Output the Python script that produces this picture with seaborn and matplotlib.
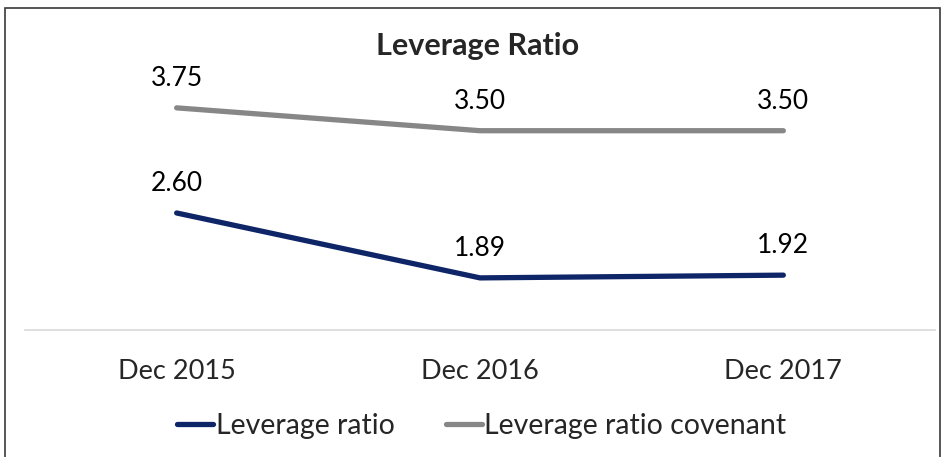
import pandas as pd
import matplotlib.pyplot as plt
import seaborn as sns
from matplotlib.patches import Rectangle

# Chart data
periods = ['Dec 2015', 'Dec 2016', 'Dec 2017']
leverage_ratio = [2.60, 1.89, 1.92]
leverage_covenant = [3.75, 3.50, 3.50]
series_names = ['Leverage ratio', 'Leverage ratio covenant']
series_colors = ['#0E2567', '#878787']

df = pd.DataFrame({
    'Period': periods * 2,
    'Value': leverage_ratio + leverage_covenant,
    'Series': [series_names[0]] * 3 + [series_names[1]] * 3,
})
df['Pos'] = list(range(len(periods))) * 2

sns.set_style('white')
plt.rcParams['font.family'] = ['Lato', 'DejaVu Sans']

fig = plt.figure(figsize=(9.44, 4.57), dpi=100)
ax = fig.add_axes([25 / 944, 127 / 457, 910 / 944, 245 / 457])

sns.lineplot(data=df, x='Pos', y='Value', hue='Series', palette=series_colors,
             hue_order=series_names, linewidth=3.8, ax=ax, legend=False,
             solid_capstyle='round')

# Data labels above each point
for _, row in df.iterrows():
    ax.annotate(f"{row['Value']:.2f}", (row['Pos'], row['Value']),
                xytext=(0, 12), textcoords='offset points',
                ha='center', va='bottom', fontsize=19, color='black')

ax.set_xlim(-0.5, 2.5)
ax.set_ylim(1.32, 4.0)
ax.set_xticks(range(len(periods)))
ax.set_xticklabels(periods, fontsize=19.5)
ax.tick_params(axis='x', length=0, pad=21)
ax.set_yticks([])
ax.set_xlabel('')
ax.set_ylabel('')
for side in ['top', 'left', 'right']:
    ax.spines[side].set_visible(False)
ax.spines['bottom'].set_color('#D9D9D9')
ax.spines['bottom'].set_linewidth(1.2)

fig.text(478 / 944, 1 - 46 / 457, 'Leverage Ratio', ha='center', va='center',
         fontsize=22, fontweight='bold')

handles = [plt.Line2D([], [], color=c, linewidth=3.8, solid_capstyle='round')
           for c in series_colors]
fig.legend(handles, series_names, loc='center', bbox_to_anchor=(482 / 944, 1 - 426 / 457),
           ncol=2, frameon=False, fontsize=20.5, handlelength=1.25,
           handletextpad=0.1, columnspacing=1.8)

# Chart frame
fig.patches.append(Rectangle((5 / 944, -0.1), 935 / 944, 1.1 - 8 / 457,
                             transform=fig.transFigure, fill=False,
                             edgecolor='#3A3A3A', linewidth=1.2))

fig.savefig('out.png', dpi=100)
